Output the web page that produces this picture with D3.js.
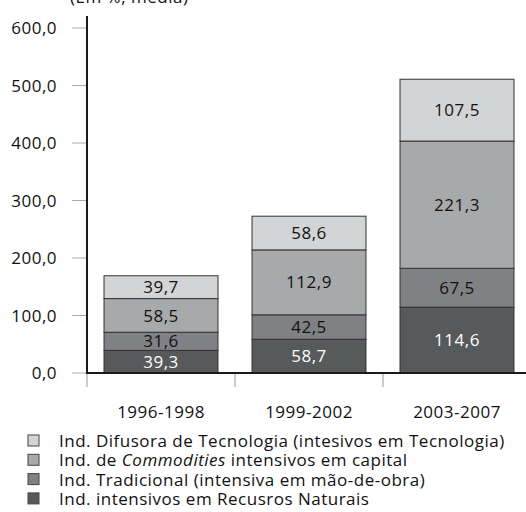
<!DOCTYPE html>
<html lang="pt">
<head>
<meta charset="UTF-8">
<title>Indústria - participação</title>
<script src="https://d3js.org/d3.v7.min.js"></script>
<style>
    body{ margin:0; background:#fff; }
    text{ font-family:"Open Sans", sans-serif; font-size:17px; letter-spacing:0.5px; }
    .tick-label{ fill:#111; }
    .legend text{ fill:#111; }
</style>
</head>
<body>
<svg width="526" height="512"></svg>
<script>
    // periods and series
    const periods = ["1996-1998", "1999-2002", "2003-2007"];
    const recursosNaturais = [39.3, 58.7, 114.6];
    const tradicional = [31.6, 42.5, 67.5];
    const commodities = [58.5, 112.9, 221.3];
    const difusora = [39.7, 58.6, 107.5];
    const yTicks = [0, 100, 200, 300, 400, 500, 600];

    const seriesNames = ["recursos", "tradicional", "commodities", "difusora"];
    const colors = ["#58595b", "#808184", "#a8a9ab", "#d3d4d6"];
    const legendLabels = [
        "Ind. Difusora de Tecnologia (intesivos em Tecnologia)",
        "Ind. de <i>Commodities</i> intensivos em capital",
        "Ind. Tradicional (intensiva em mão-de-obra)",
        "Ind. intensivos em Recusros Naturais"
    ];

    const table = periods.map((p, i) => ({
        period: p,
        recursos: recursosNaturais[i],
        tradicional: tradicional[i],
        commodities: commodities[i],
        difusora: difusora[i]
    }));

    const stacked = d3.stack().keys(seriesNames)(table);

    const svg = d3.select("svg");
    const fmt = v => d3.format(".1f")(v).replace(".", ",");

    const y = d3.scaleLinear().domain([0, 600]).range([373, 28]);
    const x = d3.scaleBand().domain(periods).range([87, 531])
        .paddingInner(0.23).paddingOuter(0.115);

    // title (partly cut at the top, as in the source)
    svg.append("text")
        .attr("x", 70).attr("y", 3)
        .attr("fill", "#111")
        .text("(Em %, média)");

    // y ticks
    const yg = svg.append("g");
    yg.selectAll("line").data(yTicks).enter().append("line")
        .attr("x1", 72).attr("x2", 87)
        .attr("y1", d => y(d)).attr("y2", d => y(d))
        .attr("stroke", "#aaa").attr("stroke-width", 1);
    yg.selectAll("text").data(yTicks).enter().append("text")
        .attr("class", "tick-label")
        .attr("x", 57).attr("y", d => y(d))
        .attr("dy", "0.36em")
        .attr("text-anchor", "end")
        .text(d => fmt(d));

    // x ticks
    const xTickPos = [87, 87 + x.step(), 87 + 2 * x.step()];
    svg.append("g").selectAll("line").data(xTickPos).enter().append("line")
        .attr("x1", d => d).attr("x2", d => d)
        .attr("y1", 374).attr("y2", 387)
        .attr("stroke", "#aaa").attr("stroke-width", 1.2);

    svg.append("g").selectAll("text").data(periods).enter().append("text")
        .attr("class", "tick-label")
        .attr("x", d => x(d) + x.bandwidth() / 2)
        .attr("y", 418)
        .attr("text-anchor", "middle")
        .text(d => d);

    // bars
    const layers = svg.append("g").selectAll("g").data(stacked).enter().append("g");
    layers.selectAll("rect").data(d => d).enter().append("rect")
        .attr("x", d => x(d.data.period))
        .attr("width", x.bandwidth())
        .attr("y", d => y(d[1]))
        .attr("height", d => y(d[0]) - y(d[1]))
        .attr("fill", function(){ return colors[d3.select(this.parentNode).datum().index]; })
        .attr("stroke", "#333").attr("stroke-width", 1);

    layers.selectAll("text").data(d => d.map(v => ({v: v, key: d.key, idx: d.index}))).enter().append("text")
        .attr("x", d => x(d.v.data.period) + x.bandwidth() / 2)
        .attr("y", d => (y(d.v[0]) + y(d.v[1])) / 2)
        .attr("dy", "0.36em")
        .attr("text-anchor", "middle")
        .attr("fill", d => d.idx === 0 ? "#fff" : "#111")
        .text(d => fmt(d.v.data[d.key]));

    // axes lines
    svg.append("line").attr("x1", 87).attr("x2", 87).attr("y1", 16).attr("y2", 374)
        .attr("stroke", "#1a1a1a").attr("stroke-width", 2);
    svg.append("line").attr("x1", 86).attr("x2", 526).attr("y1", 373).attr("y2", 373)
        .attr("stroke", "#1a1a1a").attr("stroke-width", 2);

    // legend
    const legend = svg.append("g").attr("class", "legend");
    const legendColors = colors.slice().reverse();
    const row = legend.selectAll("g").data(legendLabels).enter().append("g")
        .attr("transform", (d, i) => `translate(28,${441 + i * 19.3})`);
    row.append("rect")
        .attr("x", 0).attr("y", -6).attr("width", 11).attr("height", 11)
        .attr("fill", (d, i) => legendColors[i])
        .attr("stroke", "#444").attr("stroke-width", 1);
    row.append("text")
        .attr("x", 31).attr("y", 0).attr("dy", "0.36em")
        .html(d => d.replace("<i>", '<tspan font-style="italic">').replace("</i>", "</tspan>"));
</script>
</body>
</html>
